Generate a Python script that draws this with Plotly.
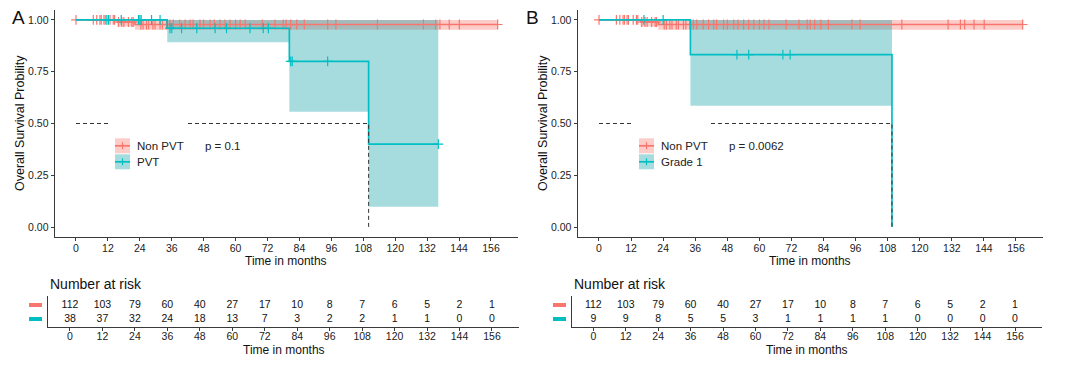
import plotly.graph_objects as go

# The page body has an 8px default margin; the figure is sized to fill the rest.
OFF = 8
W, H = 1080 - OFF, 373 - OFF
FONT = "Liberation Sans, Arial, sans-serif"
RED = "#F8766D"
TEAL = "#00BFC4"
RED_FILL = "rgba(248,118,109,0.37)"
TEAL_FILL = "rgba(10,158,164,0.36)"
AXCOL = "#3a3a3a"
TXT = "#222222"

# ---------------- data ----------------
time_ticks = [0, 12, 24, 36, 48, 60, 72, 84, 96, 108, 120, 132, 144, 156]
surv_ticks = [0.0, 0.25, 0.50, 0.75, 1.00]
surv_tick_labels = ["0.00", "0.25", "0.50", "0.75", "1.00"]

# Non PVT (shared by both panels)
nonpvt_time = [0, 15.5, 22.2, 158.5]
nonpvt_surv = [1.0, 0.990, 0.978, 0.978]
nonpvt_lower = [1.0, 0.968, 0.953, 0.953]
nonpvt_upper = [1.0, 1.0, 1.0, 1.0]
nonpvt_censor = [0, 6.5, 7.8, 9, 9.5, 10.5, 11, 12.8, 14, 14.5, 16, 17.2, 18, 19.7,
                 21, 21.5, 24.4, 25.2, 26.5, 27.3, 28.9, 29.7, 31.6, 32.5, 34, 35.3,
                 36.6, 39, 41, 42.9, 44, 46.6, 48, 50.4, 52, 54.1, 56, 57.9, 60, 61.7,
                 63.6, 70, 74.8, 77.9, 79, 80.7, 83, 85.8, 94.6, 97.7, 113.3, 130.6,
                 135.2, 136.8, 140.3, 144.1, 158.5]
nonpvt_risk = [112, 103, 79, 60, 40, 27, 17, 10, 8, 7, 6, 5, 2, 1]

# PVT (panel A)
pvt_time = [0, 34.3, 80.2, 110.0, 136.2]
pvt_surv = [1.0, 0.96, 0.80, 0.40, 0.40]
pvt_lower = [1.0, 0.892, 0.557, 0.098, 0.098]
pvt_upper = [1.0, 1.0, 1.0, 1.0, 1.0]
pvt_censor = [11.6, 12.2, 17, 23.5, 24, 24.5, 28.4, 31.6, 35.3, 36, 39.7, 45.4,
              52.3, 56.6, 65.4, 70.4, 72.3, 80.7, 81.3, 94.6, 136.2]
pvt_risk = [38, 37, 32, 24, 18, 13, 7, 3, 2, 2, 1, 1, 0, 0]
pvt_median = 110.0
pvt_p = "p = 0.1"

# Grade 1 (panel B)
g1_time = [0, 34.2, 109.6]
g1_surv = [1.0, 0.833, 0.0]
g1_lower = [1.0, 0.586, 0.586]
g1_upper = [1.0, 1.0, 1.0]
g1_censor = [16.8, 24.0, 51.6, 56.0, 68.8, 71.5]
g1_risk = [9, 9, 8, 5, 5, 3, 1, 1, 1, 1, 0, 0, 0, 0]
g1_median = 109.6
g1_p = "p = 0.0062"

XRANGE = [-8, 166]


def step_at(times, surv, t):
    v = surv[0]
    for ti, si in zip(times, surv):
        if ti <= t:
            v = si
    return v


def px(x):
    return (x - OFF) / W


def py(y):
    return 1 - (y - OFF) / H


fig = go.Figure()


def add_band(xa, ya, times, lower, upper, fill):
    fig.add_trace(go.Scatter(x=times, y=lower, mode="lines", line=dict(width=0, shape="hv"),
                             xaxis=xa, yaxis=ya, hoverinfo="skip", showlegend=False))
    fig.add_trace(go.Scatter(x=times, y=upper, mode="lines", line=dict(width=0, shape="hv"),
                             fill="tonexty", fillcolor=fill,
                             xaxis=xa, yaxis=ya, hoverinfo="skip", showlegend=False))


def add_line(xa, ya, times, surv, censor, col):
    fig.add_trace(go.Scatter(x=times, y=surv, mode="lines", line=dict(color=col, width=1.7, shape="hv"),
                             xaxis=xa, yaxis=ya, showlegend=False))
    cy = [step_at(times, surv, t) for t in censor]
    fig.add_trace(go.Scatter(x=censor, y=cy, mode="markers",
                             marker=dict(symbol="cross-thin", size=7, color=col,
                                         line=dict(color=col, width=1.2)),
                             xaxis=xa, yaxis=ya, showlegend=False))


def add_median(xa, ya, med):
    fig.add_trace(go.Scatter(x=[0, med, med], y=[0.5, 0.5, 0], mode="lines",
                             line=dict(color="#333333", width=1, dash="4px,3px"),
                             xaxis=xa, yaxis=ya, showlegend=False, hoverinfo="skip"))


def add_table(xa, ya, r1, r2):
    for row, vals in [(2, r1), (1, r2)]:
        fig.add_trace(go.Scatter(x=time_ticks, y=[row] * len(time_ticks), text=[str(v) for v in vals],
                                 mode="text", textfont=dict(family=FONT, size=10.5, color="#111"),
                                 xaxis=xa, yaxis=ya, showlegend=False))


# Panel A
add_band("x", "y", nonpvt_time, nonpvt_lower, nonpvt_upper, RED_FILL)
add_band("x", "y", pvt_time, pvt_lower, pvt_upper, TEAL_FILL)
add_line("x", "y", nonpvt_time, nonpvt_surv, nonpvt_censor, RED)
add_line("x", "y", pvt_time, pvt_surv, pvt_censor, TEAL)
add_median("x", "y", pvt_median)
add_table("x2", "y2", nonpvt_risk, pvt_risk)

# Panel B
add_band("x3", "y3", nonpvt_time, nonpvt_lower, nonpvt_upper, RED_FILL)
add_band("x3", "y3", g1_time, g1_lower, g1_upper, TEAL_FILL)
add_line("x3", "y3", nonpvt_time, nonpvt_surv, nonpvt_censor, RED)
add_line("x3", "y3", g1_time, g1_surv, g1_censor, TEAL)
add_median("x3", "y3", g1_median)
add_table("x4", "y4", nonpvt_risk, g1_risk)


def xdom(zero_px, end_px):
    slope = (end_px - zero_px) / 156.0
    return [px(zero_px + XRANGE[0] * slope), px(zero_px + XRANGE[1] * slope)]


common_x = dict(range=XRANGE, tickvals=time_ticks, ticktext=[str(t) for t in time_ticks],
                showline=True, linecolor=AXCOL, linewidth=1.2, ticks="outside", ticklen=3,
                tickcolor=AXCOL, tickwidth=1, showgrid=False, zeroline=False,
                tickfont=dict(family=FONT, size=10.5, color=TXT), fixedrange=True)
main_x = dict(common_x, ticklabelstandoff=-2)
table_x = dict(common_x, ticklabelstandoff=-4)
main_y = dict(range=[-0.048, 1.048], tickvals=surv_ticks, ticktext=surv_tick_labels,
              showline=True, linecolor=AXCOL, linewidth=1.2, ticks="outside", ticklen=3,
              tickcolor=AXCOL, tickwidth=1, showgrid=False, zeroline=False,
              tickfont=dict(family=FONT, size=10.5, color=TXT))
table_y = dict(range=[0.4286, 2.643], showline=True, linecolor=AXCOL, linewidth=1.2,
               showticklabels=False, ticks="", showgrid=False, zeroline=False)

main_ydom = [py(237), py(10)]
table_ydom = [py(327), py(296)]

fig.update_layout(
    width=W, height=H, margin=dict(l=0, r=0, t=0, b=0),
    paper_bgcolor="white", plot_bgcolor="white", showlegend=False,
    font=dict(family=FONT, color=TXT),
    xaxis=dict(main_x, domain=xdom(76, 491), anchor="y"),
    yaxis=dict(main_y, domain=main_ydom, anchor="x"),
    xaxis2=dict(table_x, domain=xdom(70, 492), anchor="y2"),
    yaxis2=dict(table_y, domain=table_ydom, anchor="x2"),
    xaxis3=dict(main_x, domain=xdom(599, 1016), anchor="y3"),
    yaxis3=dict(main_y, domain=main_ydom, anchor="x3"),
    xaxis4=dict(table_x, domain=xdom(593.3, 1015), anchor="y4"),
    yaxis4=dict(table_y, domain=table_ydom, anchor="x4"),
)

shapes = []
annotations = []


def legend(box_l, box_r, key_l, labels, p_text, p_x):
    shapes.append(dict(type="rect", xref="paper", yref="paper", x0=px(box_l), x1=px(box_r),
                       y0=py(177), y1=py(116), fillcolor="white", line=dict(width=0), layer="above"))
    for i, (lab, col, fill) in enumerate(labels):
        top = 138.3 + 16 * i
        bot = top + 15
        mid = (top + bot) / 2
        shapes.append(dict(type="rect", xref="paper", yref="paper", x0=px(key_l), x1=px(key_l + 15),
                           y0=py(bot), y1=py(top), fillcolor=fill, line=dict(width=0), layer="above"))
        shapes.append(dict(type="line", xref="paper", yref="paper", x0=px(key_l), x1=px(key_l + 15),
                           y0=py(mid), y1=py(mid), line=dict(color=col, width=1.7), layer="above"))
        shapes.append(dict(type="line", xref="paper", yref="paper", x0=px(key_l + 7.5), x1=px(key_l + 7.5),
                           y0=py(mid - 3.5), y1=py(mid + 3.5), line=dict(color=col, width=1.2), layer="above"))
        annotations.append(dict(text=lab, xref="paper", yref="paper", x=px(key_l + 20), y=py(mid),
                                xanchor="left", yanchor="middle", showarrow=False,
                                font=dict(family=FONT, size=11.5, color=TXT)))
    annotations.append(dict(text=p_text, xref="paper", yref="paper", x=px(p_x), y=py(146),
                            xanchor="left", yanchor="middle", showarrow=False,
                            font=dict(family=FONT, size=11.5, color=TXT)))


legend(109, 185, 115, [("Non PVT", RED, RED_FILL), ("PVT", TEAL, TEAL_FILL)], pvt_p, 203)
legend(633, 709, 639, [("Non PVT", RED, RED_FILL), ("Grade 1", TEAL, TEAL_FILL)], g1_p, 727)


def table_swatches(x0, x1, yref):
    for val, col in [(2, RED), (1, TEAL)]:
        shapes.append(dict(type="line", xref="paper", yref=yref, x0=px(x0), x1=px(x1),
                           y0=val, y1=val, line=dict(color=col, width=4)))


table_swatches(29, 42, "y2")
table_swatches(553, 566, "y4")


def text(t, x, y, size, anchor="center", angle=0):
    annotations.append(dict(text=t, xref="paper", yref="paper", x=px(x), y=py(y),
                            xanchor=anchor, yanchor="middle", showarrow=False, textangle=angle,
                            font=dict(family=FONT, size=size, color="#111")))


# Panel labels
text("A", 18, 17, 19)
text("B", 532, 17, 19)
# Y titles
text("Overall Survival Probility", 20, 123, 12.5, angle=-90)
text("Overall Survival Probility", 543, 123, 12.5, angle=-90)
# X titles main
text("Time in months", 286, 261, 12)
text("Time in months", 810, 261, 12)
# Table titles
text("Number at risk", 48, 284, 14, anchor="left")
text("Number at risk", 572, 284, 14, anchor="left")
text("Time in months", 284, 350, 12)
text("Time in months", 807, 350, 12)

fig.update_layout(shapes=shapes, annotations=annotations)
fig.write_html("out.html")
